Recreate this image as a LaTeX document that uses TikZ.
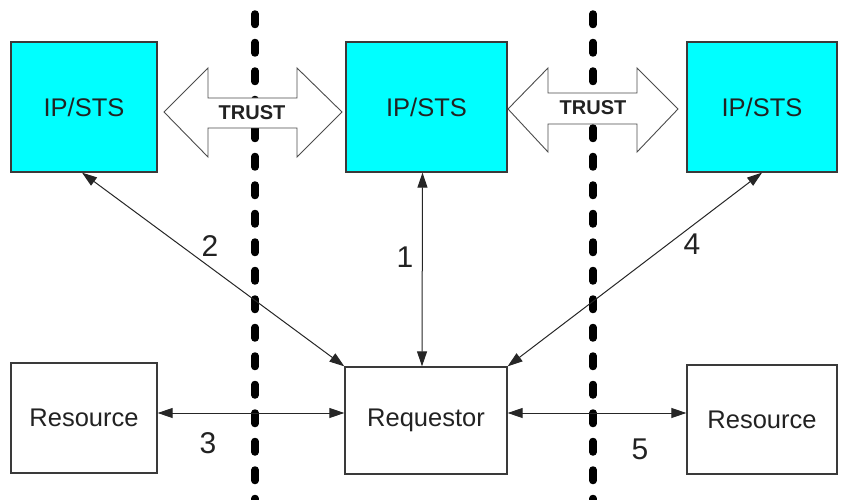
\documentclass[tikz,border=0pt]{standalone}
\usepackage{fontspec}
\setmainfont{Liberation Sans}
\usetikzlibrary{arrows.meta}
\definecolor{stscyan}{HTML}{00FFFF}
\definecolor{boxline}{HTML}{3A3A3A}
\definecolor{txt}{HTML}{222222}
\tikzset{
  stsbox/.style={draw=boxline, line width=1.3pt, fill=stscyan, minimum width=#1, minimum height=130pt, inner sep=0pt, text=txt, font=\fontsize{25.5}{28}\selectfont},
  plainbox/.style={draw=boxline, line width=1.3pt, fill=white, minimum width=#1, inner sep=0pt, text=txt, font=\fontsize{25.5}{28}\selectfont},
  conn/.style={draw=black!85, line width=1pt, {Triangle[length=15pt,width=10pt]}-{Triangle[length=15pt,width=10pt]}},
  sep/.style={draw=black, line width=7.5pt, line cap=round, dash pattern=on 10.5pt off 18pt},
  trustarrow/.style={draw=black!70, line width=0.9pt, fill=white},
  trusttext/.style={font=\bfseries\fontsize{20}{22}\selectfont, inner sep=0pt, text=txt},
  numlabel/.style={font=\fontsize{30}{32}\selectfont, inner sep=0pt, text=txt}
}
\begin{document}
\begin{tikzpicture}[x=1pt,y=-1pt]
\path[use as bounding box] (0,0) rectangle (841,500);
% separators
\draw[sep] (255,14) -- (255,505);
\draw[sep] (593,14) -- (593,505);
% trust arrows
\draw[trustarrow] (164,112) -- (208,68) -- (208,98) -- (297,98) -- (297,68) -- (342,112) -- (297,157) -- (297,128) -- (208,128) -- (208,157) -- cycle;
\node[trusttext] (t1) at (252,113) {TRUST};
\draw[trustarrow] (508,109) -- (548,68) -- (548,93) -- (637,93) -- (637,68) -- (678,109) -- (637,152) -- (637,124) -- (548,124) -- (548,152) -- cycle;
\node[trusttext] (t2) at (593,108) {TRUST};
% boxes
\node[stsbox=146pt] (ipl) at (84,107) {IP/STS};
\node[stsbox=161pt] (ipm) at (426.5,107) {IP/STS};
\node[stsbox=150pt] (ipr) at (762,107) {IP/STS};
\node[plainbox=146pt, minimum height=110pt] (resl) at (84,418) {Resource};
\node[plainbox=162pt, minimum height=107pt] (req) at (426,420.5) {Requestor};
\node[plainbox=150pt, minimum height=109pt] (resr) at (762,419.5) {Resource};
% connectors
\coordinate (yh) at (0,413);
\draw[conn] ([xshift=-2pt]ipl.south) -- (req.north west);
\draw[conn] ([xshift=-4pt]ipm.south) -- ([xshift=-4pt]req.north);
\draw[conn] (ipr.south) -- (req.north east);
\draw[conn] (resl.east |- yh) -- (req.west |- yh);
\draw[conn] (req.east |- yh) -- (resr.west |- yh);
% labels
\node[numlabel] (n2) at (210,246) {2};
\node[numlabel] (n1) at (405,257) {1};
\node[numlabel] (n4) at (692,244) {4};
\node[numlabel] (n3) at (208,443) {3};
\node[numlabel] (n5) at (640,449) {5};
\end{tikzpicture}
\end{document}
